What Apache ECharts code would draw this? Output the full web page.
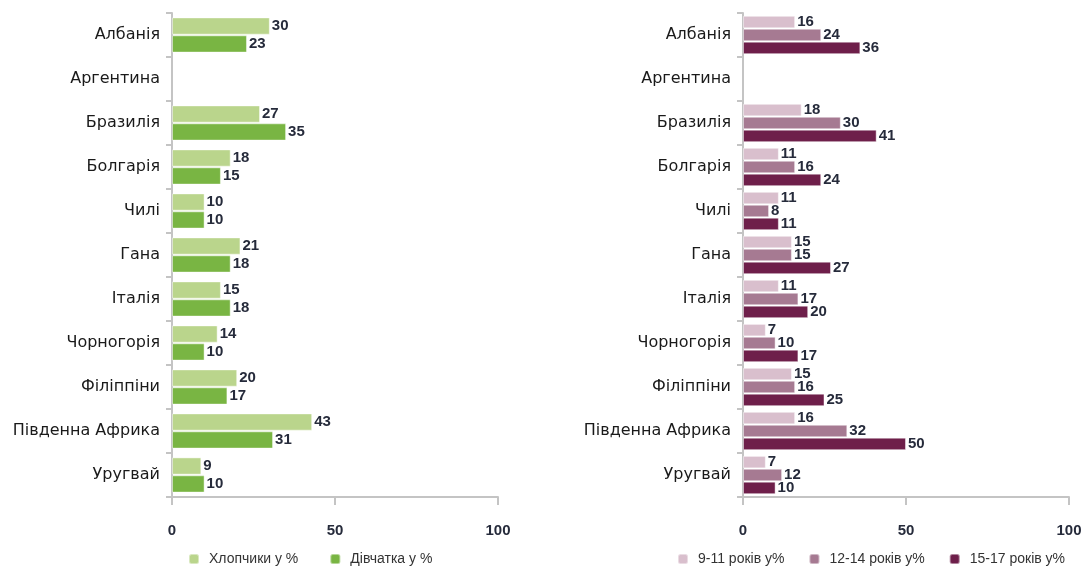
<!DOCTYPE html>
<html>
<head>
<meta charset="utf-8">
<script src="https://cdn.jsdelivr.net/npm/echarts@6/dist/echarts.min.js"></script>
<style>
  html, body { margin: 0; padding: 0; background: #fff; }
  #chart { width: 1085px; height: 566px; }
</style>
</head>
<body>
<div id="chart"></div>
<script>
// країни
var countries = ['Албанія', 'Аргентина', 'Бразилія', 'Болгарія', 'Чилі', 'Гана', 'Італія', 'Чорногорія', 'Філіппіни', 'Південна Африка', 'Уругвай'];
// за статтю
var boys = [30, null, 27, 18, 10, 21, 15, 14, 20, 43, 9];
var girls = [23, null, 35, 15, 10, 18, 18, 10, 17, 31, 10];
// за віком
var age9_11 = [16, null, 18, 11, 11, 15, 11, 7, 15, 16, 7];
var age12_14 = [24, null, 30, 16, 8, 15, 17, 10, 16, 32, 12];
var age15_17 = [36, null, 41, 24, 11, 27, 20, 17, 25, 50, 10];
var xTicks = [0, 50, 100];

var chart = echarts.init(document.getElementById('chart'));

var axisGrey = '#c4c4c4';
var labelStyle = {
  show: true,
  position: 'right',
  distance: 2,
  color: '#262b3b',
  fontWeight: 'bold',
  fontSize: 15,
  fontFamily: 'Liberation Sans'
};

function xAxis(idx) {
  return {
    gridIndex: idx,
    type: 'value',
    min: 0,
    max: 100,
    interval: 50,
    axisLine: { show: true, lineStyle: { color: axisGrey, width: 2 } },
    axisTick: { show: true, length: 8, inside: false, lineStyle: { color: axisGrey, width: 2 } },
    splitLine: { show: false },
    axisLabel: {
      margin: 26,
      color: '#262b3b',
      fontWeight: 'bold',
      fontSize: 15,
      fontFamily: 'Liberation Sans',
      formatter: function (v) { return xTicks.indexOf(v) >= 0 ? String(v) : ''; }
    }
  };
}

function yAxis(idx) {
  return {
    gridIndex: idx,
    type: 'category',
    data: countries,
    inverse: true,
    axisLine: { show: true, lineStyle: { color: axisGrey, width: 2 } },
    axisTick: { show: true, length: 6, lineStyle: { color: axisGrey, width: 2 } },
    axisLabel: {
      margin: 12,
      color: '#1a1a1a',
      fontSize: 16,
      fontFamily: 'DejaVu Sans'
    }
  };
}

function bar(name, data, color, idx, gap, catGap) {
  return {
    name: name,
    type: 'bar',
    xAxisIndex: idx,
    yAxisIndex: idx,
    data: data,
    barGap: gap,
    barCategoryGap: catGap,
    itemStyle: { color: color, borderColor: 'rgba(255,255,255,0.45)', borderWidth: 1 },
    label: labelStyle
  };
}

var legendText = { fontSize: 14, color: '#333', fontFamily: 'Liberation Sans', padding: [0, 0, 0, 5] };

var option = {
  animation: false,
  grid: [
    { left: 172, right: 587, top: 13, bottom: 69 },
    { left: 743, right: 16, top: 13, bottom: 69 }
  ],
  legend: [
    {
      left: 188, top: 552, padding: 0,
      itemWidth: 10, itemHeight: 10, itemGap: 31,
      textStyle: legendText,
      data: ['Хлопчики у %', 'Дівчатка у %']
    },
    {
      left: 677, top: 552, padding: 0,
      itemWidth: 10, itemHeight: 10, itemGap: 24,
      textStyle: legendText,
      data: ['9-11 років у%', '12-14 років у%', '15-17 років у%']
    }
  ],
  xAxis: [xAxis(0), xAxis(1)],
  yAxis: [yAxis(0), yAxis(1)],
  series: [
    bar('Хлопчики у %', boys, '#bad58c', 0, '4%', '20%'),
    bar('Дівчатка у %', girls, '#79b543', 0, '4%', '20%'),
    bar('9-11 років у%', age9_11, '#d9bfcd', 1, '3%', '13%'),
    bar('12-14 років у%', age12_14, '#a67a92', 1, '3%', '13%'),
    bar('15-17 років у%', age15_17, '#6e1f4a', 1, '3%', '13%')
  ]
};

chart.setOption(option);
</script>
</body>
</html>
